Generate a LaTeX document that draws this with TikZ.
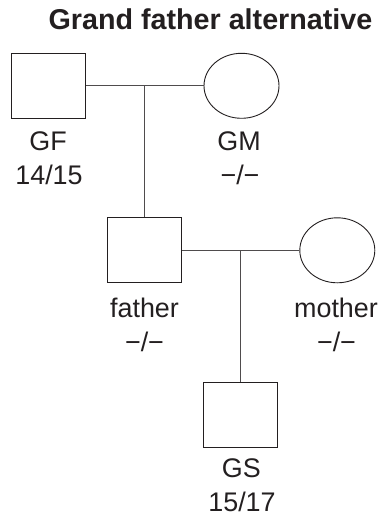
\documentclass[tikz,border=0pt]{standalone}
\usepackage{fontspec}
\setmainfont{Liberation Sans}
\usetikzlibrary{shapes.geometric}
\definecolor{ink}{HTML}{231F20}
\begin{document}
\begin{tikzpicture}[x=1bp,y=-1bp,
  male/.style={draw=ink,line width=0.9bp,rectangle,minimum width=74bp,minimum height=65bp,inner sep=0pt},
  female/.style={draw=ink,line width=0.9bp,ellipse,minimum width=75bp,minimum height=65bp,inner sep=0pt},
  link/.style={draw=ink!80,line width=0.9bp},
  lab/.style={anchor=base,inner sep=0pt,text=ink,font=\fontsize{27}{33}\selectfont},
  title/.style={anchor=base,inner sep=0pt,text=ink,font=\fontsize{28.8}{34}\selectfont\bfseries}]
\useasboundingbox (0,0) rectangle (385,518);
\node[title] (ttl) at (210.5,29.3) {Grand father alternative};
% grandparents
\node[male] (gf) at (48.7,85.8) {};
\node[female] (gm) at (241.5,85.8) {};
\node[lab] (gfn) at (48,151) {GF};
\node[lab] (gfg) at (49,185) {14/15};
\node[lab] (gmn) at (239,151) {GM};
\node[lab] (gmg) at (240,185) {−/−};
% parents
\node[male] (fa) at (144.5,250.3) {};
\node[female] (mo) at (337.3,250.3) {};
\node[lab] (fan) at (144.5,317) {father};
\node[lab] (fag) at (144.5,351) {−/−};
\node[lab] (mon) at (336,317) {mother};
\node[lab] (mog) at (336.5,351) {−/−};
% grandson
\node[male] (gs) at (240.8,415) {};
\node[lab] (gsn) at (241.3,477.3) {GS};
\node[lab] (gsg) at (242,511.5) {15/17};
% marriage lines and descent lines
\draw[link] (gf.east) -- (gm.west);
\draw[link] (gf.east -| fa.north) -- (fa.north);
\draw[link] (fa.east) -- (mo.west);
\draw[link] (fa.east -| gs.north) -- (gs.north);
\end{tikzpicture}
\end{document}
